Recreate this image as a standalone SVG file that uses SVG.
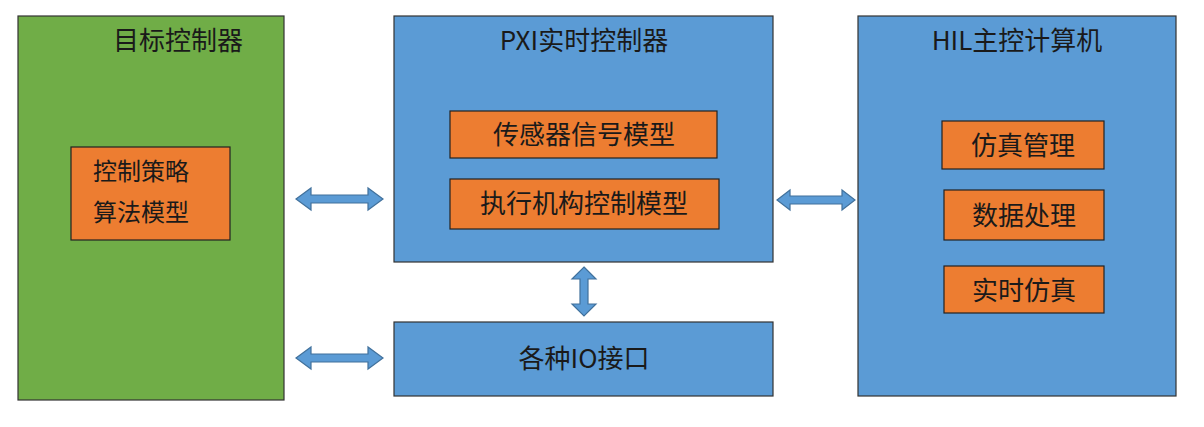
<svg xmlns="http://www.w3.org/2000/svg" width="1204" height="427" viewBox="0 0 1204 427">
<style>
text{font-family:"Noto Sans CJK SC","Noto Sans",sans-serif;fill:#1a1a1a}
.g{fill:#70AD47;stroke:#333;stroke-width:1.2}
.b{fill:#5B9BD5;stroke:#333;stroke-width:1.2}
.o{fill:#ED7D31;stroke:#222;stroke-width:1.2}
.a{fill:#5B9BD5;stroke:#41719C;stroke-width:1.2}
.t{font-size:24px}
.s{font-size:26px}
</style>
<rect width="1204" height="427" fill="#fff"/>
<g id="target"><rect class="g" x="18" y="16" width="266" height="384"/><text class="s" x="178" y="50" text-anchor="middle">目标控制器</text></g>
<g id="algo"><rect class="o" x="71" y="147" width="159" height="93"/><text class="t" x="93" y="180">控制策略</text><text class="t" x="93" y="221">算法模型</text></g>
<g id="pxi"><rect class="b" x="394" y="16" width="379" height="246"/><text class="s" x="584" y="50" text-anchor="middle">PXI实时控制器</text></g>
<g id="sensor"><rect class="o" x="450" y="111" width="267" height="47"/><text class="s" x="584" y="144" text-anchor="middle">传感器信号模型</text></g>
<g id="actuator"><rect class="o" x="450" y="179" width="269" height="50"/><text class="s" x="584" y="213" text-anchor="middle">执行机构控制模型</text></g>
<g id="io"><rect class="b" x="394" y="322" width="379" height="74"/><text class="s" x="584" y="368" text-anchor="middle">各种IO接口</text></g>
<g id="hil"><rect class="b" x="858" y="16" width="318" height="380"/><text class="s" x="1017" y="50" text-anchor="middle">HIL主控计算机</text></g>
<g id="simmgmt"><rect class="o" x="942" y="121" width="162" height="48"/><text class="s" x="1023" y="155" text-anchor="middle">仿真管理</text></g>
<g id="data"><rect class="o" x="944" y="190" width="160" height="50"/><text class="s" x="1024" y="225" text-anchor="middle">数据处理</text></g>
<g id="rtsim"><rect class="o" x="944" y="266" width="160" height="47"/><text class="s" x="1024" y="300" text-anchor="middle">实时仿真</text></g>
<g id="connectors">
<path class="a" d="M296,199 L311,188 L311,195 L368,195 L368,188 L383,199 L368,210 L368,203 L311,203 L311,210 Z"/>
<path class="a" d="M296,358 L311,347 L311,354 L368,354 L368,347 L383,358 L368,369 L368,362 L311,362 L311,369 Z"/>
<path class="a" d="M777,200 L790,190 L790,196 L842,196 L842,190 L855,200 L842,210 L842,204 L790,204 L790,210 Z"/>
<path class="a" d="M584,267 L596,279 L588,279 L588,304 L596,304 L584,316 L572,304 L580,304 L580,279 L572,279 Z"/>
</g>
</svg>
